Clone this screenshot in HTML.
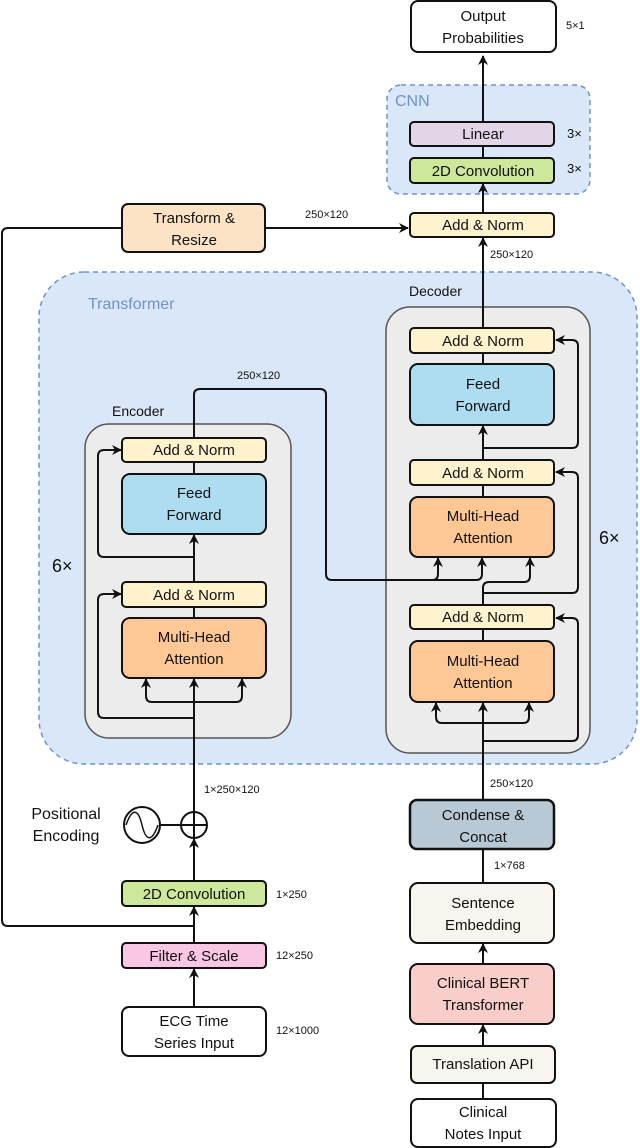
<!DOCTYPE html>
<html><head><meta charset="utf-8"><style>
html,body{margin:0;padding:0;background:#fff}
svg{display:block}
text{font-family:"Liberation Sans",sans-serif;fill:#111}
.b{stroke:#111;stroke-width:2}
.l{fill:none;stroke:#111;stroke-width:2;stroke-linejoin:round}
.t{font-size:15px;text-anchor:middle}
.d{font-size:11px}
</style></head><body>
<svg width="640" height="1148" viewBox="0 0 640 1148" xmlns="http://www.w3.org/2000/svg">
<defs>
<marker id="a" viewBox="0 0 10 10" refX="9" refY="5" markerWidth="5" markerHeight="5" orient="auto-start-reverse"><path d="M0,0 L10,5 L0,10 L3,5 z" fill="#111"/></marker>
</defs>

<!-- containers -->
<rect x="387" y="85" width="203" height="109" rx="14" fill="#d9e7f8" stroke="#6e93c6" stroke-width="1.5" stroke-dasharray="5,4"/>
<text x="395" y="106" style="font-size:16px;fill:#6e93c6">CNN</text>
<rect x="39" y="272" width="598" height="492" rx="45" fill="#d9e7f8" stroke="#6e93c6" stroke-width="1.5" stroke-dasharray="5,4"/>
<text x="88" y="309" style="font-size:16px;fill:#6e93c6">Transformer</text>
<rect x="386" y="307" width="204" height="446" rx="24" fill="#ececec" stroke="#555" stroke-width="1.5"/>
<rect x="85" y="424" width="206" height="314" rx="24" fill="#ececec" stroke="#555" stroke-width="1.5"/>
<text x="409" y="296" style="font-size:14px">Decoder</text>
<text x="112" y="416" style="font-size:14px">Encoder</text>
<text x="52" y="572" style="font-size:18px">6×</text>
<text x="599" y="544" style="font-size:18px">6×</text>

<!-- lines -->
<path class="l" d="M483,125 V56" marker-end="url(#a)"/>
<path class="l" d="M483,146 V158"/>
<path class="l" d="M483,213 V184" marker-end="url(#a)"/>
<path class="l" d="M483,328 V238" marker-end="url(#a)"/>
<path class="l" d="M194,926 H8 Q2,926 2,920 V234 Q2,228 8,228 H122"/>
<path class="l" d="M265,228 H408" marker-end="url(#a)"/>
<!-- decoder -->
<path class="l" d="M483,364 V353"/>
<path class="l" d="M483,460 V426" marker-end="url(#a)"/>
<path class="l" d="M483,448 H572 Q578,448 578,442 V346 Q578,340 572,340 H556" marker-end="url(#a)"/>
<path class="l" d="M483,497 V485"/>
<path class="l" d="M483,605 V588 Q483,582 489,582 H524 Q530,582 530,576 V558" marker-end="url(#a)"/>
<path class="l" d="M483,593 H572 Q578,593 578,587 V478 Q578,472 572,472 H556" marker-end="url(#a)"/>
<path class="l" d="M483,641 V629"/>
<path class="l" d="M483,800 V703" marker-end="url(#a)"/>
<path class="l" d="M436,703 V717 Q436,723 442,723 H523 Q529,723 529,717 V703" marker-start="url(#a)" marker-end="url(#a)"/>
<path class="l" d="M483,741 H572 Q578,741 578,735 V624 Q578,618 572,618 H556" marker-end="url(#a)"/>
<!-- encoder to decoder -->
<path class="l" d="M194,438 V395 Q194,389 200,389 H320 Q326,389 326,395 V574 Q326,580 332,580 H476 Q482,580 482,574 V558" marker-end="url(#a)"/>
<path class="l" d="M432,580 Q438,580 438,574 V558" marker-end="url(#a)"/>
<!-- encoder -->
<path class="l" d="M194,474 V462"/>
<path class="l" d="M194,582 V535" marker-end="url(#a)"/>
<path class="l" d="M194,557 H104 Q98,557 98,551 V456 Q98,450 104,450 H121" marker-end="url(#a)"/>
<path class="l" d="M194,618 V607"/>
<path class="l" d="M194,812 V679" marker-end="url(#a)"/>
<path class="l" d="M146,679 V696 Q146,702 152,702 H236 Q242,702 242,696 V679" marker-start="url(#a)" marker-end="url(#a)"/>
<path class="l" d="M194,718 H104 Q98,718 98,712 V600 Q98,594 104,594 H121" marker-end="url(#a)"/>
<!-- bottom left -->
<path class="l" d="M194,881 V839" marker-end="url(#a)"/>
<path class="l" d="M194,943 V907" marker-end="url(#a)"/>
<path class="l" d="M194,1007 V969" marker-end="url(#a)"/>
<circle cx="194" cy="825" r="13" fill="#fff" stroke="#111" stroke-width="2"/>
<path class="l" d="M181,825 H207 M194,812 V838 M160,825 H181"/>
<circle cx="142" cy="825" r="18" fill="#fff" stroke="#111" stroke-width="2"/>
<path class="l" d="M126,825 C132,808 138,808 142,825 C146,842 152,842 158,825" style="stroke-width:1.5"/>
<text x="66" y="819" class="t" style="font-size:16px">Positional</text>
<text x="66" y="841" class="t" style="font-size:16px">Encoding</text>
<!-- bottom right -->
<path class="l" d="M483,883 V849"/>
<path class="l" d="M483,964 V944" marker-end="url(#a)"/>
<path class="l" d="M483,1046 V1025" marker-end="url(#a)"/>
<path class="l" d="M483,1099 V1083"/>

<!-- boxes -->
<rect x="411" y="1" width="145" height="51" rx="7" fill="#fff" class="b"/>
<text x="483" y="21" class="t">Output</text><text x="483" y="43" class="t">Probabilities</text>
<rect x="410" y="122" width="144" height="24" rx="4" fill="#e3d5e8" class="b"/><text x="483" y="139" class="t">Linear</text>
<rect x="410" y="158" width="144" height="25" rx="4" fill="#cde89a" class="b"/><text x="483" y="176" class="t">2D Convolution</text>
<rect x="122" y="204" width="143" height="48" rx="6" fill="#fde3c6" class="b"/>
<text x="194" y="223" class="t">Transform &amp;</text><text x="194" y="245" class="t">Resize</text>
<rect x="410" y="213" width="144" height="24" rx="4" fill="#fff3cf" class="b"/><text x="483" y="230" class="t">Add &amp; Norm</text>

<rect x="410" y="328" width="144" height="25" rx="4" fill="#fff3cf" class="b"/><text x="483" y="346" class="t">Add &amp; Norm</text>
<rect x="410" y="364" width="144" height="61" rx="8" fill="#aedcf0" class="b"/>
<text x="483" y="389" class="t">Feed</text><text x="483" y="411" class="t">Forward</text>
<rect x="410" y="460" width="144" height="25" rx="4" fill="#fff3cf" class="b"/><text x="483" y="478" class="t">Add &amp; Norm</text>
<rect x="410" y="497" width="144" height="60" rx="8" fill="#fdc895" class="b"/>
<text x="483" y="521" class="t">Multi-Head</text><text x="483" y="543" class="t">Attention</text>
<rect x="410" y="605" width="144" height="24" rx="4" fill="#fff3cf" class="b"/><text x="483" y="622" class="t">Add &amp; Norm</text>
<rect x="410" y="641" width="144" height="61" rx="8" fill="#fdc895" class="b"/>
<text x="483" y="666" class="t">Multi-Head</text><text x="483" y="688" class="t">Attention</text>

<rect x="122" y="438" width="144" height="24" rx="4" fill="#fff3cf" class="b"/><text x="194" y="455" class="t">Add &amp; Norm</text>
<rect x="122" y="474" width="144" height="60" rx="8" fill="#aedcf0" class="b"/>
<text x="194" y="498" class="t">Feed</text><text x="194" y="520" class="t">Forward</text>
<rect x="122" y="582" width="144" height="25" rx="4" fill="#fff3cf" class="b"/><text x="194" y="600" class="t">Add &amp; Norm</text>
<rect x="122" y="618" width="144" height="60" rx="8" fill="#fdc895" class="b"/>
<text x="194" y="642" class="t">Multi-Head</text><text x="194" y="664" class="t">Attention</text>

<rect x="122" y="881" width="144" height="25" rx="4" fill="#cde89a" class="b"/><text x="194" y="899" class="t">2D Convolution</text>
<rect x="122" y="943" width="144" height="25" rx="4" fill="#f9c6e4" class="b"/><text x="194" y="961" class="t">Filter &amp; Scale</text>
<rect x="122" y="1007" width="144" height="49" rx="7" fill="#fff" class="b"/>
<text x="194" y="1026" class="t">ECG Time</text><text x="194" y="1048" class="t">Series Input</text>

<rect x="410" y="800" width="144" height="49" rx="7" fill="#b8c8d4" stroke="#111" stroke-width="2.5"/>
<text x="483" y="820" class="t">Condense &amp;</text><text x="483" y="842" class="t">Concat</text>
<rect x="410" y="883" width="144" height="60" rx="8" fill="#f7f5ee" class="b"/>
<text x="483" y="908" class="t">Sentence</text><text x="483" y="930" class="t">Embedding</text>
<rect x="410" y="964" width="144" height="60" rx="8" fill="#f9cdc9" class="b"/>
<text x="483" y="988" class="t">Clinical BERT</text><text x="483" y="1010" class="t">Transformer</text>
<rect x="411" y="1046" width="144" height="37" rx="6" fill="#f7f5ee" class="b"/><text x="483" y="1069" class="t">Translation API</text>
<rect x="411" y="1099" width="145" height="48" rx="7" fill="#fff" class="b"/>
<text x="483" y="1117" class="t">Clinical</text><text x="483" y="1139" class="t">Notes Input</text>

<!-- dims -->
<text x="566" y="29" class="d">5×1</text>
<text x="567" y="138" class="d" style="font-size:13px">3×</text>
<text x="567" y="173" class="d" style="font-size:13px">3×</text>
<text x="305" y="218" class="d">250×120</text>
<text x="490" y="258" class="d">250×120</text>
<text x="237" y="379" class="d">250×120</text>
<text x="490" y="787" class="d">250×120</text>
<text x="204" y="793" class="d">1×250×120</text>
<text x="494" y="869" class="d">1×768</text>
<text x="276" y="898" class="d">1×250</text>
<text x="276" y="959" class="d">12×250</text>
<text x="276" y="1034" class="d">12×1000</text>
</svg>
</body></html>
